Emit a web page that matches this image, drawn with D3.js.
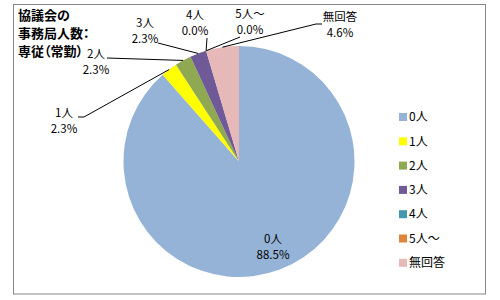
<!DOCTYPE html>
<html>
<head>
<meta charset="utf-8">
<script src="https://cdn.jsdelivr.net/npm/d3@7"></script>
<style>
  body { margin: 0; background: #fff; }
  svg text { font-family: "Noto Sans CJK JP", sans-serif; font-feature-settings: "palt"; }
</style>
</head>
<body>
<svg width="500" height="300"></svg>
<script>
// data
var categories = ["0人", "1人", "2人", "3人", "4人", "5人～", "無回答"];
var counts = [77, 2, 2, 2, 0, 0, 4];
var percentLabels = ["88.5%", "2.3%", "2.3%", "2.3%", "0.0%", "0.0%", "4.6%"];
var titleLines = ["協議会の", "事務局人数：", "専従（常勤）"];

var colors = ["#95b3d7", "#ffff00", "#8fa852", "#6f5a97", "#4198af", "#e0843c", "#e6b9b8"];

// where each label sits and where its leader line leaves the label
var labelPos = [
  {x: 273, y: 239, line: null},
  {x: 64, y: 113, line: [[78, 117], [84, 117]]},
  {x: 96, y: 54, line: [[107, 58]]},
  {x: 145, y: 23, line: [[158, 43]]},
  {x: 195, y: 15, line: [[207, 38]]},
  {x: 250, y: 14, line: [[240, 37]]},
  {x: 340, y: 17, line: [[322, 24], [316, 24]]}
];

var svg = d3.select("svg");
var cx = 239, cy = 161.5, r = 115.5;

// outer frame
svg.append("rect")
    .attr("x", 13.5).attr("y", 4.5)
    .attr("width", 472).attr("height", 289.5)
    .attr("fill", "none")
    .attr("stroke", "#868686");

var pie = d3.pie().sort(null).value(function(d) { return d; });
var arcs = pie(counts);
var arc = d3.arc().innerRadius(0).outerRadius(r);
var edge = d3.arc().innerRadius(r).outerRadius(r);

var g = svg.append("g").attr("transform", "translate(" + cx + "," + cy + ")");

g.selectAll("path.slice")
  .data(arcs)
  .enter().append("path")
    .attr("class", "slice")
    .attr("d", arc)
    .attr("fill", function(d, i) { return colors[i]; });

// leader lines
var line = d3.line();
arcs.forEach(function(d, i) {
  var p = labelPos[i];
  if (!p.line) return;
  var c = edge.centroid(d);
  var pts = p.line.slice();
  pts.push([c[0] + cx, c[1] + cy]);
  svg.append("path")
      .attr("d", line(pts))
      .attr("fill", "none")
      .attr("stroke", "#000")
      .attr("stroke-width", 1);
});

// slice labels
var labels = svg.append("g").attr("font-size", 11.5).attr("text-anchor", "middle");
categories.forEach(function(c, i) {
  var p = labelPos[i];
  labels.append("text")
      .attr("x", p.x).attr("y", p.y)
      .attr("dy", "0.35em")
      .text(c);
  labels.append("text")
      .attr("x", p.x).attr("y", p.y + 16)
      .attr("dy", "0.35em")
      .text(percentLabels[i]);
});

// title
svg.append("text")
    .attr("x", 18)
    .attr("font-size", 13)
    .attr("font-weight", "bold")
  .selectAll("tspan")
  .data(titleLines)
  .enter().append("tspan")
    .attr("x", 18)
    .attr("y", function(d, i) { return 15 + i * 18; })
    .attr("dy", "0.35em")
    .text(function(d) { return d; });

// legend
var legend = svg.append("g")
    .attr("font-size", 12)
  .selectAll("g")
  .data(categories)
  .enter().append("g")
    .attr("transform", function(d, i) { return "translate(399," + (117 + i * 24.3) + ")"; });

legend.append("rect")
    .attr("x", 0).attr("y", -4)
    .attr("width", 8).attr("height", 8)
    .attr("fill", function(d, i) { return colors[i]; });

legend.append("text")
    .attr("x", 10)
    .attr("dy", "0.35em")
    .text(function(d) { return d; });
</script>
</body>
</html>
